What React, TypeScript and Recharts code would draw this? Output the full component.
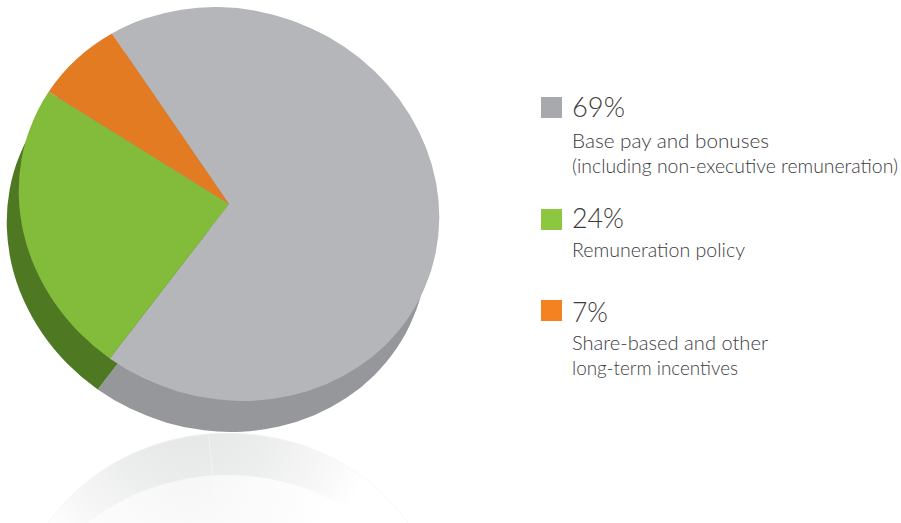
import { PieChart, Pie, Cell } from 'recharts';

const categories = ['Base pay and bonuses', 'Remuneration policy', 'Share-based and other'];
const values = [69, 24, 7];
const percentLabels = ['69%', '24%', '7%'];
const legendLines = [
  ['Base pay and bonuses', '(including non-executive remuneration)'],
  ['Remuneration policy'],
  ['Share-based and other', 'long-term incentives'],
];
const faceColors = ['#b5b6ba', '#83bb3b', '#e37b23'];
const sideColors = ['#96979b', '#4f7823', '#96979b'];
const legendColors = ['#a7a9ac', '#8dc63f', '#f58220'];

// legend layout
const squareTops = [97, 209, 300];
const percentBaselines = [117, 228, 322];
const percentWidths = [53, 52, 36];
const lineBaselines = [[148, 173], [257], [350, 375]];
const lineWidths = [[197, 326], [173], [196, 166]];

const data = categories.map((name, i) => ({ name, value: values[i] }));

const RADIUS = 213;
const SQUASH = 194 / 213;
const TILT = 22.7;

// one disc of the fake 3d pie, squashed and tilted into an ellipse with css
function Disc({ x, y, start, fills, tilt, stroke, defs }: {
  x: number;
  y: number;
  start: number;
  fills: string[];
  tilt: number;
  stroke?: string;
  defs?: React.ReactNode;
}) {
  return (
    <div style={{
      position: 'absolute',
      left: x - RADIUS,
      top: y - RADIUS,
      width: RADIUS * 2,
      height: RADIUS * 2,
      transform: `rotate(${tilt}deg) scaleY(${SQUASH})`,
    }}>
      <PieChart width={RADIUS * 2} height={RADIUS * 2} margin={{ top: 0, right: 0, bottom: 0, left: 0 }}>
        {defs}
        <Pie
          data={data}
          dataKey="value"
          cx={RADIUS}
          cy={RADIUS}
          innerRadius={0}
          outerRadius={RADIUS}
          startAngle={start}
          endAngle={start - 360}
          stroke={stroke || 'none'}
          strokeWidth={stroke ? 0.7 : 0}
          isAnimationActive={false}
          label={false}
          labelLine={false}
        >
          {data.map((d, i) => <Cell key={d.name} fill={fills[i]} />)}
        </Pie>
      </PieChart>
    </div>
  );
}

const fadeDefs = (
  <defs>
    <radialGradient id="fadeSide" gradientUnits="userSpaceOnUse" cx="175" cy="-14" r="185">
      <stop offset="0" stopColor="#e5e6e6" />
      <stop offset="0.4" stopColor="#ebecec" />
      <stop offset="0.8" stopColor="#f8f8f8" />
      <stop offset="1" stopColor="#ffffff" />
    </radialGradient>
  </defs>
);

const fadeFaceDefs = (
  <defs>
    <radialGradient id="fadeFace" gradientUnits="userSpaceOnUse" cx="170" cy="0" r="150">
      <stop offset="0" stopColor="#f6f6f6" />
      <stop offset="1" stopColor="#ffffff" />
    </radialGradient>
  </defs>
);

const fadeSide = ['url(#fadeSide)', 'url(#fadeSide)', 'url(#fadeSide)'];
const fadeFace = ['url(#fadeFace)', 'url(#fadeFace)', 'url(#fadeFace)'];

export default function App() {
  return (
    <div style={{
      position: 'absolute',
      left: 0,
      top: 0,
      width: 901,
      height: 523,
      overflow: 'hidden',
      background: '#fff',
    }}>
      {/* reflection */}
      <Disc x={228} y={627} start={70} fills={fadeSide} tilt={0} stroke="#f3f3f3" defs={fadeDefs} />
      <Disc x={228} y={669} start={70} fills={fadeFace} tilt={0} defs={fadeFaceDefs} />

      {/* side wall, then top face */}
      <Disc x={217} y={235} start={144.7} fills={sideColors} tilt={TILT} />
      <Disc x={229} y={204} start={144.7} fills={faceColors} tilt={TILT} />

      {/* legend */}
      <svg width={901} height={523} style={{ position: 'absolute', left: 0, top: 0 }}>
        <g fontFamily="Lato, sans-serif" fontWeight={300} fill="#3c3c3e">
          {percentLabels.map((label, i) => (
            <g key={label}>
              <rect x={541} y={squareTops[i]} width={21} height={21} fill={legendColors[i]} />
              <text x={572} y={percentBaselines[i]} fontSize={28} textLength={percentWidths[i]} lengthAdjust="spacingAndGlyphs">
                {label}
              </text>
              {legendLines[i].map((line, j) => (
                <text key={line} x={572} y={lineBaselines[i][j]} fontSize={19.5} textLength={lineWidths[i][j]} lengthAdjust="spacingAndGlyphs">
                  {line}
                </text>
              ))}
            </g>
          ))}
        </g>
      </svg>
    </div>
  );
}
